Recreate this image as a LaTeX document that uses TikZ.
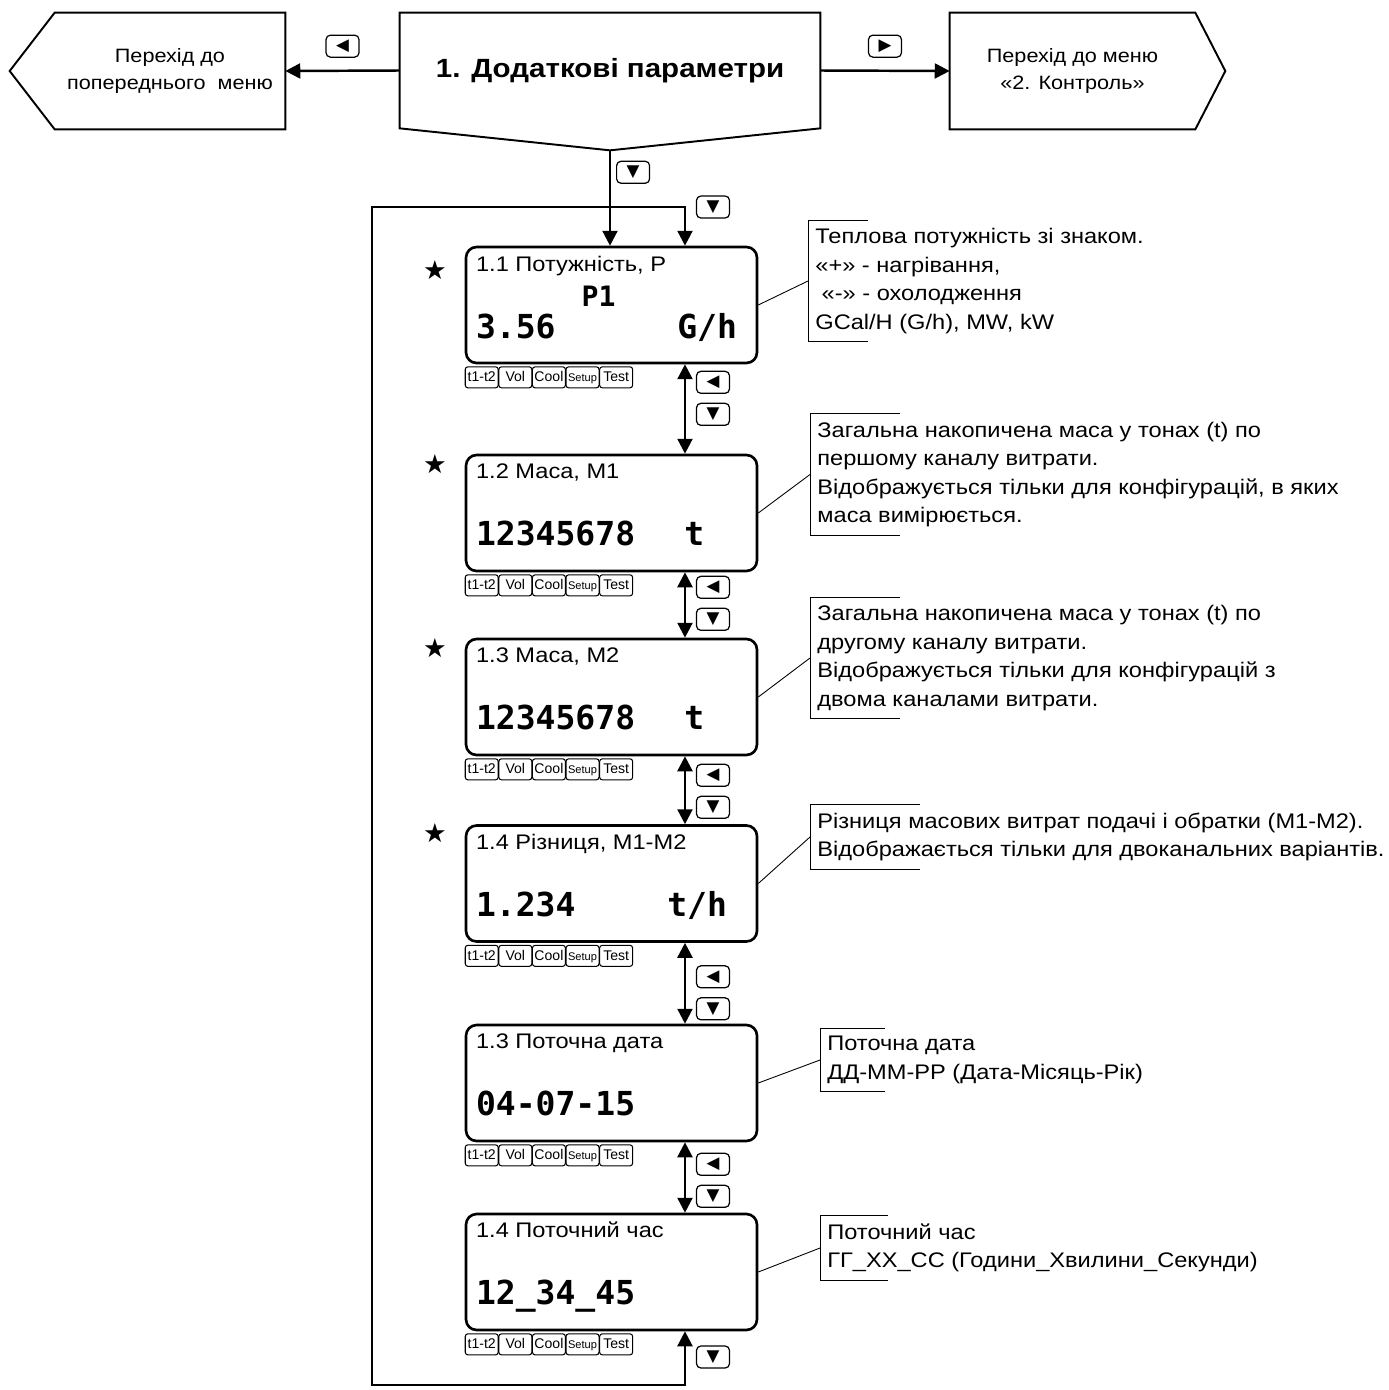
\documentclass[tikz,border=0pt]{standalone}
\usepackage{fontspec}
\setmainfont{Liberation Sans}[FakeStretch=1.12]
\newfontfamily\keyfont{Liberation Sans}
\newfontfamily\lcdfont{DejaVu Sans Mono}
\newfontfamily\symfont{DejaVu Sans}
\usetikzlibrary{arrows.meta, positioning, calc}

% soft keys under a screen
\newcommand{\fkeys}[1]{%
  \foreach \lbl [count=\i from 0] in {t1-t2,Vol,Cool,\fontsize{6.3}{6.3}\selectfont Setup,Test}
    \node[fkey, anchor=north west] (#1-f\i) at ($(#1.south west)+(\i*33.6,2)$) {\lbl};}

% bracket of a side note
\newcommand{\bracket}[2]{%
  \draw[noteline] ($(#1.north west)+(#2,0)$) -- (#1.north west) -- (#1.south west) -- ($(#1.south west)+(#2,0)$);}

\begin{document}
\begin{tikzpicture}[x=0.02cm, y=-0.02cm,
        menu/.style={minimum height=2.32cm, inner sep=0, align=center, font=\fontsize{11}{15.4}\selectfont},
        outline/.style={draw, line width=1.1pt, line join=miter},
        screen/.style={draw, rounded corners=6pt, line width=1.5pt, minimum width=5.82cm, minimum height=2.32cm},
        fkey/.style={draw, rounded corners=1.5pt, line width=0.6pt, minimum width=0.66cm, minimum height=0.42cm, inner sep=0, text height=5.8pt, text depth=1pt, font=\keyfont\fontsize{8}{8}\selectfont},
        btn/.style={draw, rounded corners=2.5pt, line width=0.7pt, minimum width=0.66cm, minimum height=0.44cm, inner sep=0, font=\symfont\fontsize{9.5}{9.5}\selectfont},
        line/.style={draw, line width=1.4pt, -{Triangle[length=8.5pt,width=8.5pt]}},
        both/.style={line, {Triangle[length=8.5pt,width=8.5pt]}-{Triangle[length=8.5pt,width=8.5pt]}},
        title/.style={anchor=base west, inner sep=0, font=\fontsize{12}{12}\selectfont},
        value/.style={inner sep=0, font=\lcdfont\bfseries\fontsize{18.8}{18.8}\selectfont},
        note/.style={anchor=west, align=left, inner xsep=4pt, inner ysep=4.5pt, font=\fontsize{12}{16.2}\selectfont},
        noteline/.style={draw, line width=0.5pt},
        starmark/.style={inner sep=0, font=\symfont\fontsize{15}{15}\selectfont}]

        \useasboundingbox (0,0) rectangle (1389,1390);

        % Menu headers
        \node [menu, minimum width=4.6cm] (prev) at (170,71) {Перехід до\\попереднього\ \ меню};
        \node [menu, minimum width=8.4cm, minimum height=2.3cm, font=\bfseries\fontsize{15}{15}\selectfont] (main) at (610,70.5) {1. Додаткові параметри};
        \node [menu, minimum width=4.9cm] (next) at (1072.5,71) {Перехід до меню\\«2. Контроль»};
        \coordinate (maintip) at ($(main.south)+(0,22)$);

        \draw [outline] (prev.north east) -- (prev.north west) -- ($(prev.west)+(-45,0)$) -- (prev.south west) -- (prev.south east) -- cycle;
        \draw [outline] (main.south west) -- (main.north west) -- (main.north east) -- (main.south east) -- (maintip) -- cycle;
        \draw [outline] (next.north west) -- (next.north east) -- ($(next.east)+(30,0)$) -- (next.south east) -- (next.south west) -- cycle;

        % Screens
        \node [screen] (s1) at (611.5,305) {};
        \node [screen] (s2) at (611.5,513) {};
        \node [screen] (s3) at (611.5,697) {};
        \node [screen] (s4) at (611.5,883.5) {};
        \node [screen] (s5) at (611.5,1083) {};
        \node [screen] (s6) at (611.5,1272) {};

        \node [title] (s1t) at ($(s1.north west)+(11,26)$) {1.1 Потужність, Р};
        \node [value, anchor=base, font=\lcdfont\bfseries\fontsize{16}{16}\selectfont] (s1c) at ($(s1.north)+(-13,61)$) {P1};
        \node [value, anchor=base west] (s1v) at ($(s1.north west)+(11,93)$) {3.56};
        \node [value, anchor=base east] (s1u) at ($(s1.north east)+(-21,93)$) {G/h};

        \node [title] (s2t) at ($(s2.north west)+(11,25)$) {1.2 Маса, М1};
        \node [value, anchor=base west] (s2v) at ($(s2.north west)+(11,92)$) {12345678};
        \node [value, anchor=base] (s2u) at ($(s2.north east)+(-64,92)$) {t};

        \node [title] (s3t) at ($(s3.north west)+(11,25)$) {1.3 Маса, М2};
        \node [value, anchor=base west] (s3v) at ($(s3.north west)+(11,92)$) {12345678};
        \node [value, anchor=base] (s3u) at ($(s3.north east)+(-64,92)$) {t};

        \node [title] (s4t) at ($(s4.north west)+(11,25)$) {1.4 Різниця, М1-М2};
        \node [value, anchor=base west] (s4v) at ($(s4.north west)+(11,92)$) {1.234};
        \node [value, anchor=base east] (s4u) at ($(s4.north east)+(-31,92)$) {t/h};

        \node [title] (s5t) at ($(s5.north west)+(11,25)$) {1.3 Поточна дата};
        \node [value, anchor=base west] (s5v) at ($(s5.north west)+(11,92)$) {04-07-15};

        \node [title] (s6t) at ($(s6.north west)+(11,25)$) {1.4 Поточний час};
        \node [value, anchor=base west] (s6v) at ($(s6.north west)+(11,92)$) {12\_34\_45};

        \fkeys{s1} \fkeys{s2} \fkeys{s3} \fkeys{s4} \fkeys{s5} \fkeys{s6}

        % Stars
        \node [starmark] (st1) at (435,270) {★};
        \node [starmark] (st2) at (435,464) {★};
        \node [starmark] (st3) at (435,648) {★};
        \node [starmark] (st4) at (435,833) {★};

        % Paths
        \path [line] (main.west) -- node [btn, above=0.26cm] (kprev) {◀} (prev.east);
        \path [line] (main.east) -- node [btn, above=0.26cm] (knext) {▶} (next.west);
        \path [line] (maintip) -- node [btn, pos=0.23, right=0.12cm] (kdown) {▼} (maintip |- s1.north);

        \foreach \a/\b/\d in {s1/s2/18, s2/s3/15, s3/s4/19, s4/s5/34, s5/s6/22} {
            \path [both] ([xshift=1.47cm]\a.south) -- ([xshift=1.47cm]\b.north);
            \node [btn] (\a-left) at ($(\a.south)+(101.5,\d)$) {◀};
            \node [btn] (\a-down) at ($(\a.south)+(101.5,\d+32)$) {▼};
        }

        \coordinate (loopsw) at (372,1385);
        \coordinate (loopnw) at (372,207);
        \path [both] ([xshift=1.47cm]s6.south) |- (loopsw) -- (loopnw) -| ([xshift=1.47cm]s1.north);
        \node [btn] (kloop) at (713,207) {▼};
        \node [btn] (kback) at (713,1357) {▼};

        % Side notes
        \node [note] (n1) at (808,281) {Теплова потужність зі знаком.\\«+» - нагрівання,\\\hspace*{0.3em}«-» - охолодження\\GCal/H (G/h), MW, kW};
        \node [note] (n2) at (810,474.5) {Загальна накопичена маса у тонах (t) по\\першому каналу витрати.\\Відображується тільки для конфігурацій, в яких\\маса вимірюється.};
        \node [note] (n3) at (810,658) {Загальна накопичена маса у тонах (t) по\\другому каналу витрати.\\Відображується тільки для конфігурацій з\\двома каналами витрати.};
        \node [note] (n4) at (810,837) {Різниця масових витрат подачі і обратки (М1-М2).\\Відображається тільки для двоканальних варіантів.};
        \node [note] (n5) at (820,1060) {Поточна дата\\ДД-ММ-РР (Дата-Місяць-Рік)};
        \node [note] (n6) at (820,1248) {Поточний час\\ГГ\_ХХ\_СС (Години\_Хвилини\_Секунди)};

        \bracket{n1}{60} \bracket{n2}{90} \bracket{n3}{90}
        \bracket{n4}{110} \bracket{n5}{65} \bracket{n6}{68}

        \draw [noteline] (s1.east) -- (n1.west);
        \draw [noteline] (s2.east) -- (n2.west);
        \draw [noteline] (s3.east) -- (n3.west);
        \draw [noteline] (s4.east) -- (n4.west);
        \draw [noteline] (s5.east) -- (n5.west);
        \draw [noteline] (s6.east) -- (n6.west);

\end{tikzpicture}
\end{document}
